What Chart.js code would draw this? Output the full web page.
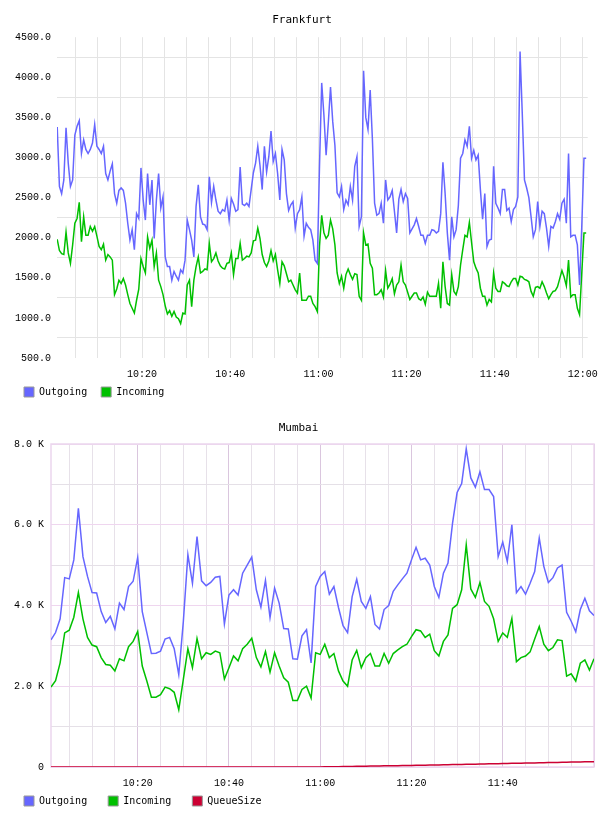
<!DOCTYPE html>
<html>
<head>
<meta charset="utf-8">
<title>Frankfurt / Mumbai</title>
<script src="https://cdn.jsdelivr.net/npm/chart.js@4.4.1/dist/chart.umd.min.js"></script>
<style>
  body { margin: 0; background: #fff; }
  canvas { display: block; }
</style>
</head>
<body>
<canvas id="fraChart" width="608" height="407"></canvas>
<canvas id="mumChart" width="608" height="409"></canvas>
<script>
// x values are minutes after 10:00
const fraStart = 0.75, fraStep = 0.5;
const fraOutgoing = [
  3380, 2640, 2550, 2720, 3370, 2930, 2640, 2720, 3280, 3390,
  3460, 3050, 3220, 3100, 3050, 3100, 3180, 3410, 3140, 3100,
  3050, 3140, 2800, 2720, 2830, 2920, 2550, 2430, 2590, 2620,
  2590, 2430, 2180, 1970, 2100, 1850, 2300, 2240, 2870, 2470,
  2220, 2800, 2410, 2720, 1990, 2470, 2800, 2370, 2510, 1760,
  1640, 1640, 1470, 1580, 1520, 1470, 1600, 1560, 1720, 2220,
  2100, 1970, 1760, 2390, 2660, 2260, 2170, 2160, 2100, 2760,
  2440, 2640, 2470, 2330, 2300, 2350, 2330, 2470, 2220, 2490,
  2420, 2330, 2350, 2880, 2420, 2400, 2430, 2390, 2600, 2810,
  2930, 3140, 2900, 2600, 3140, 2820, 3010, 3330, 2950, 3050,
  2800, 2470, 3100, 2970, 2550, 2340, 2410, 2450, 2120, 2300,
  2350, 2510, 2020, 2180, 2130, 2100, 1970, 1720, 1680, 2890,
  3930, 3530, 3030, 3430, 3880, 3450, 3150, 2560, 2510, 2640,
  2350, 2470, 2410, 2640, 2470, 2890, 3010, 2140, 2260, 4080,
  3500, 3350, 3840, 3230, 2430, 2280, 2300, 2430, 2180, 2720,
  2470, 2510, 2590, 2330, 2060, 2480, 2600, 2450, 2550, 2490,
  2060, 2110, 2160, 2240, 2140, 2030, 2030, 1930, 2030, 2030,
  2100, 2090, 2060, 2080, 2300, 2940, 2550, 2060, 1720, 2260,
  2010, 2100, 2400, 2990, 3050, 3220, 3140, 3390, 2990, 3090,
  2970, 3030, 2600, 2230, 2550, 1890, 1970, 1980, 2890, 2430,
  2370, 2300, 2600, 2600, 2340, 2370, 2200, 2350, 2390, 2510,
  4320, 3550, 2720, 2620, 2500, 2260, 2010, 2100, 2450, 2140,
  2330, 2300, 2120, 1890, 2140, 2120, 2200, 2300, 2230, 2430,
  2480, 2180, 3050, 2010, 2030, 2030, 1910, 1410, 2140, 2990,
  2990
];
const fraIncoming = [
  1980, 1840, 1800, 1790, 2070, 1810, 1680, 1910, 2180, 2240,
  2440, 1950, 2260, 2030, 2030, 2140, 2080, 2140, 2020, 1890,
  1850, 1920, 1720, 1790, 1760, 1720, 1290, 1360, 1470, 1430,
  1490, 1410, 1290, 1180, 1120, 1060, 1220, 1360, 1740, 1640,
  1560, 2010, 1870, 1970, 1640, 1810, 1470, 1390, 1290, 1150,
  1050, 1090, 1020, 1080, 1010, 990, 930, 1060, 1050, 1410,
  1470, 1140, 1470, 1640, 1760, 1560, 1580, 1610, 1600, 1930,
  1700, 1740, 1810, 1710, 1650, 1620, 1610, 1680, 1690, 1810,
  1540, 1740, 1740, 1930, 1720, 1740, 1770, 1760, 1810, 1960,
  1970, 2120, 1990, 1790, 1690, 1640, 1710, 1840, 1710, 1790,
  1600, 1430, 1700, 1650, 1550, 1450, 1470, 1410, 1350, 1310,
  1560, 1220, 1220, 1220, 1270, 1270, 1180, 1140, 1080, 1890,
  2280, 2060, 1990, 2030, 2220, 2110, 1910, 1560, 1430, 1520,
  1370, 1540, 1610, 1540, 1480, 1550, 1540, 1270, 1220, 2060,
  1910, 1920, 1680, 1620, 1290, 1290, 1310, 1350, 1260, 1590,
  1370, 1420, 1490, 1300, 1410, 1450, 1660, 1450, 1410, 1320,
  1230, 1270, 1310, 1310, 1240, 1220, 1260, 1170, 1320, 1270,
  1270, 1270, 1270, 1430, 1120, 1700, 1390, 1180, 1160, 1540,
  1330, 1290, 1390, 1660, 1850, 2030, 2010, 2190, 1940, 1700,
  1620, 1560, 1370, 1270, 1270, 1160, 1230, 1200, 1560, 1370,
  1330, 1330, 1450, 1430, 1400, 1390, 1450, 1490, 1490, 1410,
  1520, 1510, 1480, 1470, 1450, 1330, 1270, 1380, 1390, 1370,
  1450, 1390, 1310, 1240, 1290, 1330, 1340, 1390, 1490, 1590,
  1510, 1400, 1720, 1260, 1290, 1290, 1120, 1040, 1560, 2060,
  2060
];
const fraGridMinutes = [5, 10, 15, 20, 25, 30, 35, 40, 45, 50, 55, 60,
  65, 70, 75, 80, 85, 90, 95, 100, 105, 110, 115, 120];
const fraYGrid = [500, 750, 1000, 1250, 1500, 1750, 2000, 2250, 2500,
  2750, 3000, 3250, 3500, 3750, 4000, 4250, 4500];

const mumStart = 1, mumStep = 1;
const mumOutgoing = [
  3150, 3330, 3670, 4690, 4660, 5130, 6410, 5210, 4720, 4320,
  4310, 3850, 3580, 3730, 3420, 4060, 3900, 4470, 4600, 5190,
  3850, 3330, 2810, 2820, 2870, 3170, 3210, 2930, 2290, 3600,
  5260, 4550, 5710, 4610, 4490, 4570, 4700, 4720, 3540, 4260,
  4390, 4260, 4800, 5000, 5200, 4390, 3960, 4620, 3700, 4430,
  4060, 3430, 3420, 2680, 2670, 3250, 3400, 2580, 4470, 4720,
  4840, 4280, 4470, 3950, 3500, 3330, 4220, 4650, 4100, 3930,
  4220, 3530, 3420, 3900, 4000, 4350, 4510, 4660, 4800, 5130,
  5440, 5130, 5170, 5000, 4470, 4200, 4800, 5050, 6040, 6800,
  7020, 7880, 7160, 6930, 7310, 6870, 6870, 6700, 5210, 5570,
  5090, 6000, 4320, 4470, 4280, 4550, 4840, 5670, 4970, 4570,
  4690, 4930, 5000, 3830, 3610, 3350, 3900, 4180, 3870, 3750
];
const mumIncoming = [
  1980, 2140, 2580, 3320, 3390, 3710, 4320, 3670, 3210, 3020,
  2980, 2710, 2540, 2520, 2380, 2680, 2630, 2980, 3110, 3360,
  2500, 2130, 1730, 1730, 1790, 1980, 1940, 1850, 1420, 2170,
  2930, 2460, 3180, 2680, 2830, 2790, 2870, 2830, 2180, 2460,
  2750, 2630, 2930, 3040, 3190, 2710, 2480, 2860, 2350, 2830,
  2500, 2210, 2100, 1650, 1650, 1920, 2000, 1710, 2830, 2790,
  3040, 2710, 2810, 2380, 2130, 2000, 2650, 2890, 2460, 2710,
  2810, 2500, 2500, 2810, 2570, 2810, 2900, 2980, 3040, 3230,
  3400, 3370, 3210, 3290, 2880, 2750, 3110, 3270, 3930, 4020,
  4390, 5500, 4410, 4200, 4570, 4100, 3980, 3670, 3110, 3320,
  3210, 3680, 2610, 2710, 2750, 2850, 3170, 3480, 3040, 2880,
  2960, 3150, 3130, 2250, 2310, 2130, 2570, 2650, 2400, 2680
];
const mumQueue = [
  0, 0, 0, 0, 0, 0, 0, 0, 0, 0,
  0, 0, 0, 0, 0, 0, 0, 0, 0, 0,
  0, 0, 0, 0, 0, 0, 0, 0, 0, 0,
  0, 0, 0, 0, 0, 0, 0, 0, 0, 0,
  0, 0, 0, 0, 0, 0, 0, 0, 0, 0,
  0, 0, 0, 0, 0, 0, 1, 1, 2, 3,
  4, 5, 6, 8, 10, 12, 14, 16, 18, 20,
  22, 24, 26, 28, 30, 32, 34, 36, 38, 40,
  42, 44, 46, 48, 50, 52, 55, 57, 59, 62,
  64, 66, 69, 71, 73, 76, 78, 80, 83, 85,
  88, 90, 92, 95, 97, 100, 102, 104, 107, 109,
  112, 114, 116, 118, 121, 123, 125, 127, 129, 131
];
const mumGridMinutes = fraGridMinutes;
const mumYGrid = [0, 1000, 2000, 3000, 4000, 5000, 6000, 7000, 8000];

const BLUE = '#6666ff', GREEN = '#00c000', RED = '#cc0033';
const monoTitle = "'DejaVu Sans Mono', monospace";
const tickFont = {family: "'Liberation Mono', monospace", size: 10};

const toPoints = (vals, start, step) => vals.map((v, i) => ({x: start + i * step, y: v}));
const clock = (m) => (10 + Math.floor(m / 60)) + ':' + String(m % 60).padStart(2, '0');

const legendLabels = (pad) => ({
  boxWidth: 10,
  boxHeight: 10,
  padding: pad,
  color: '#000',
  font: {family: monoTitle, size: 10},
  generateLabels: (chart) => Chart.defaults.plugins.legend.labels.generateLabels(chart)
    .map(item => Object.assign(item, {strokeStyle: '#999', lineWidth: 1}))
});

const lineSet = (label, data, color) => ({
  label: label,
  data: data,
  borderColor: color,
  backgroundColor: color,
  borderWidth: 1.5,
  pointRadius: 0,
  tension: 0,
  fill: false
});

// the x axis box is kept short so the legend sits close; let its labels spill below it
const labelRoom = {
  id: 'labelRoom',
  afterLayout(chart) { chart.scales.x.bottom = chart.height; }
};

new Chart(document.getElementById('fraChart'), {
  type: 'line',
  data: {
    datasets: [
      lineSet('Outgoing', toPoints(fraOutgoing, fraStart, fraStep), BLUE),
      lineSet('Incoming', toPoints(fraIncoming, fraStart, fraStep), GREEN)
    ]
  },
  options: {
    responsive: false,
    animation: false,
    layout: {padding: {left: 10, right: 14, top: 0, bottom: 0}},
    plugins: {
      title: {
        display: true, text: 'Frankfurt', color: '#000',
        font: {family: monoTitle, size: 11, weight: 'normal'},
        padding: {top: 14, bottom: 10}
      },
      legend: {position: 'bottom', align: 'start', labels: legendLabels(14)},
      tooltip: {enabled: false}
    },
    scales: {
      x: {
        type: 'linear', min: 0.7, max: 121.1,
        afterBuildTicks: s => { s.ticks = fraGridMinutes.map(v => ({value: v})); },
        afterFit: s => { s.height = 15; },
        grid: {color: '#e4e4e4', drawTicks: false},
        border: {display: false},
        ticks: {
          padding: 10, autoSkip: false, maxRotation: 0, color: '#000', font: tickFont,
          callback: v => v % 20 === 0 ? clock(v) : ''
        }
      },
      y: {
        min: 500, max: 4500,
        afterBuildTicks: s => { s.ticks = fraYGrid.map(v => ({value: v})); },
        afterFit: s => { s.width = 47; },
        grid: {drawTicks: false, color: c => c.tick && c.tick.value % 500 === 250 ? '#e4e4e4' : 'rgba(0,0,0,0)'},
        border: {display: false},
        ticks: {
          padding: 6, color: '#000', font: tickFont,
          callback: v => v % 500 === 0 ? v.toFixed(1) : ''
        }
      }
    }
  },
  plugins: [labelRoom]
});

// pink frame round the Mumbai plot area
const framePlugin = {
  id: 'frame',
  beforeDatasetsDraw(chart) {
    const {ctx, chartArea: a} = chart;
    ctx.save();
    ctx.strokeStyle = '#ecd6ee';
    ctx.lineWidth = 1.5;
    ctx.strokeRect(a.left, a.top, a.right - a.left, a.bottom - a.top);
    ctx.restore();
  }
};

new Chart(document.getElementById('mumChart'), {
  type: 'line',
  data: {
    datasets: [
      lineSet('Outgoing', toPoints(mumOutgoing, mumStart, mumStep), BLUE),
      lineSet('Incoming', toPoints(mumIncoming, mumStart, mumStep), GREEN),
      lineSet('QueueSize', toPoints(mumQueue, mumStart, mumStep), RED)
    ]
  },
  options: {
    responsive: false,
    animation: false,
    layout: {padding: {left: 3, right: 14, top: 0, bottom: 0}},
    plugins: {
      title: {
        display: true, text: 'Mumbai', color: '#000',
        font: {family: monoTitle, size: 11, weight: 'normal'},
        padding: {top: 15, bottom: 8.8}
      },
      legend: {position: 'bottom', align: 'start', labels: legendLabels(21)},
      tooltip: {enabled: false}
    },
    scales: {
      x: {
        type: 'linear', min: 1, max: 120,
        afterBuildTicks: s => { s.ticks = mumGridMinutes.map(v => ({value: v})); },
        afterFit: s => { s.height = 8; },
        grid: {drawTicks: false, color: c => c.tick && c.tick.value % 20 === 0 ? '#dac6de' : '#e7e1e9'},
        border: {display: false},
        ticks: {
          padding: 10, autoSkip: false, maxRotation: 0, color: '#000', font: tickFont,
          callback: v => (v % 20 === 0 && v < 120) ? clock(v) : ''
        }
      },
      y: {
        min: 0, max: 8000,
        afterBuildTicks: s => { s.ticks = mumYGrid.map(v => ({value: v})); },
        afterFit: s => { s.width = 48; },
        grid: {drawTicks: false, color: c => c.tick && c.tick.value % 2000 === 0 ? '#efd6ef' : '#e5e0e7'},
        border: {display: false},
        ticks: {
          padding: 7, color: '#000', font: tickFont,
          callback: v => v === 0 ? '0' : (v % 2000 === 0 ? (v / 1000).toFixed(1) + ' K' : '')
        }
      }
    }
  },
  plugins: [framePlugin, labelRoom]
});
</script>
</body>
</html>
